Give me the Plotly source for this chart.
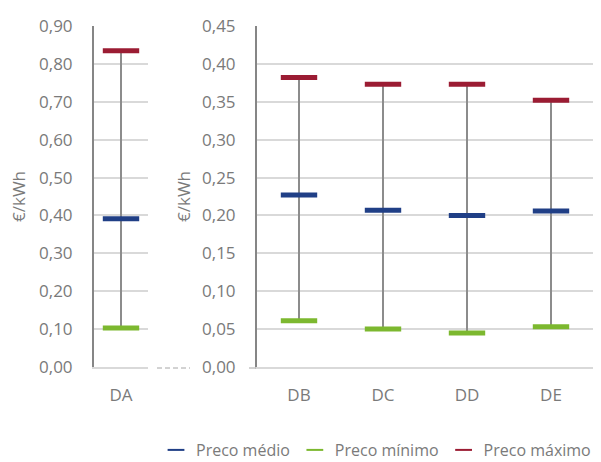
import plotly.graph_objects as go

# Price ranges per tariff (€/kWh)
cats_left = ["DA"]
medio_left = [0.391]
minimo_left = [0.103]
maximo_left = [0.835]

cats_right = ["DB", "DC", "DD", "DE"]
medio_right = [0.227, 0.207, 0.200, 0.206]
minimo_right = [0.061, 0.050, 0.045, 0.053]
maximo_right = [0.382, 0.373, 0.373, 0.352]

series_names = ["Preco médio", "Preco mínimo", "Preco máximo"]
series_colors = ["#203f86", "#7cb82f", "#9b1c33"]

W, H = 601, 462
FONT = "Open Sans"
TXT = "#7a7a7a"
FS = 17


def px_x(v):
    return v / W


def px_y(v):
    return 1 - v / H


fig = go.Figure()


def add_panel(cats, lo, mid, hi, xa, ya, show_legend):
    # vertical high-low stems
    xs, ys = [], []
    for c, a, b in zip(cats, lo, hi):
        xs += [c, c, None]
        ys += [a, b, None]
    fig.add_trace(go.Scatter(x=xs, y=ys, mode="lines", xaxis=xa, yaxis=ya,
                             line=dict(color="#8c8c8c", width=2),
                             showlegend=False, hoverinfo="skip"))
    for name, vals, col in zip(series_names, [mid, lo, hi], series_colors):
        fig.add_trace(go.Scatter(
            x=cats, y=vals, mode="markers", name=name, xaxis=xa, yaxis=ya,
            marker=dict(symbol="line-ew", size=26, color=col,
                        line=dict(color=col, width=5)),
            showlegend=show_legend, legendgroup=name))


add_panel(cats_left, minimo_left, medio_left, maximo_left, "x", "y", False)
add_panel(cats_right, minimo_right, medio_right, maximo_right, "x2", "y2", True)

y_dom = [px_y(367), px_y(26)]
tickfont = dict(family=FONT, size=FS, color=TXT)
yaxis_common = dict(showgrid=True, gridcolor="#d9d9d9", gridwidth=1.5,
                    zeroline=False, tickfont=tickfont, fixedrange=True,
                    automargin=False, tickformat=".2f", showline=True,
                    linecolor="#868686", linewidth=2, ticklabelstandoff=16)
xaxis_common = dict(showgrid=False, zeroline=False, showline=True,
                    linecolor="#d9d9d9", linewidth=1.5, tickfont=tickfont,
                    ticklabelstandoff=12, fixedrange=True, automargin=False)

fig.update_layout(
    width=W, height=H,
    margin=dict(l=0, r=0, t=0, b=0, autoexpand=False),
    paper_bgcolor="white", plot_bgcolor="white",
    separators=",.",
    font=dict(family=FONT, color=TXT),
    xaxis=dict(domain=[px_x(94), px_x(148)], range=[-0.5, 0.5], anchor="y",
               **xaxis_common),
    yaxis=dict(domain=y_dom, range=[0, 0.9], dtick=0.1, anchor="x",
               **yaxis_common),
    xaxis2=dict(domain=[px_x(257), px_x(593)], range=[-0.5, 3.5], anchor="y2",
                **xaxis_common),
    yaxis2=dict(domain=y_dom, range=[0, 0.45], dtick=0.05, anchor="x2",
                **yaxis_common),
    legend=dict(orientation="h", x=px_x(156), y=px_y(450), xanchor="left",
                yanchor="middle", font=dict(family=FONT, size=16, color=TXT),
                itemsizing="constant", itemwidth=30, tracegroupgap=0,
                bgcolor="rgba(0,0,0,0)"),
    showlegend=True,
)

# axis titles
for xc in (19, 184):
    fig.add_annotation(text="€/kWh", x=px_x(xc), y=px_y(197), xref="paper",
                       yref="paper", xanchor="center", yanchor="middle",
                       textangle=-90, showarrow=False,
                       font=dict(family=FONT, size=FS, color=TXT))

# dashed break marker between the two panels, plus the small tick at zero
fig.add_shape(type="line", xref="paper", yref="paper",
              x0=px_x(157), x1=px_x(190), y0=px_y(368), y1=px_y(368),
              line=dict(color="#a6a6a6", width=1, dash="5px,3px"))
fig.add_shape(type="line", xref="paper", yref="paper",
              x0=px_x(249), x1=px_x(256), y0=px_y(368), y1=px_y(368),
              line=dict(color="#a6a6a6", width=1))

fig.write_html("out.html")
